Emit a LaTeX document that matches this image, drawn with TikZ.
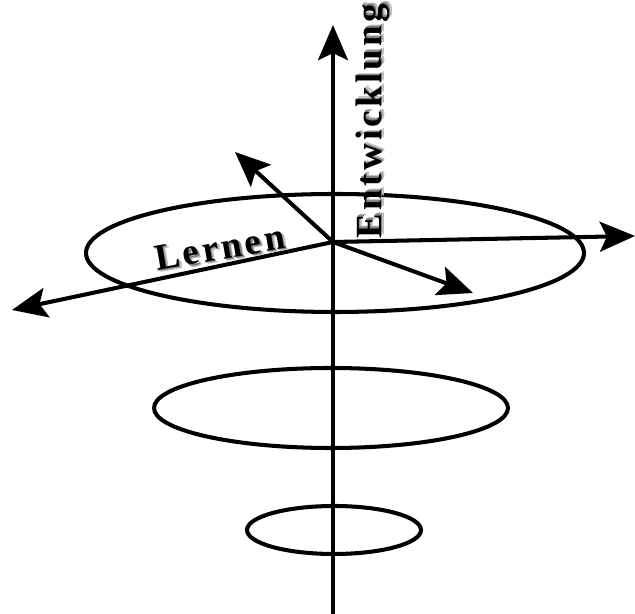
\documentclass[tikz,border=0pt]{standalone}
\usepackage{fontspec}
\setmainfont{Liberation Serif}
\newfontfamily\sperrfont[LetterSpace=9]{Liberation Serif}
\usetikzlibrary{arrows.meta}

% Text mit grauem Schatten
\newcommand{\schattentext}[1]{%
  \rlap{\hspace{1.5pt}\raisebox{-1.5pt}{\textcolor{black!25}{#1}}}%
  \rlap{\hspace{0.8pt}\raisebox{-0.8pt}{\textcolor{black!50}{#1}}}#1}

\tikzset{
  achse/.style={line width=2.3pt},
  kreis/.style={line width=2.3pt},
  beschriftung/.style={font=\sperrfont\bfseries\fontsize{21}{21}\selectfont, inner sep=0pt}
}

\begin{document}
\begin{tikzpicture}[>={Stealth[length=20pt, width=17pt, inset=4pt]}]
    \useasboundingbox (-6.66,-7.44) rectangle (6.04,4.84);

    % Mittelpunkt und Pfeilspitzen
    \coordinate (O) at (0,0);
    \coordinate (oben) at (0,4.34);
    \coordinate (unten) at (0,-7.44);
    \coordinate (rechts) at (6.04,0.12);
    \coordinate (linksunten) at (-6.42,-1.36);
    \coordinate (linksoben) at (-1.96,1.80);
    \coordinate (rechtsunten) at (2.80,-1.02);

    % Ellipsen
    \draw[kreis] (0.04,-0.22) ellipse (4.98 and 1.18);
    \draw[kreis] (-0.04,-3.32) ellipse (3.54 and 0.80);
    \draw[kreis] (0.02,-5.76) ellipse (1.74 and 0.48);

    % Senkrechte Achse
    \draw[achse] (unten) -- (O);
    \draw[achse, ->] (O) -- (oben);

    % Pfeile in der Ebene
    \draw[achse, ->] (O) -- (rechts);
    \draw[achse, ->] (O) -- (linksunten);
    \draw[achse, ->] (O) -- (linksoben);
    \draw[achse, ->] (O) -- (rechtsunten);

    % Beschriftungen
    \node[beschriftung, rotate=10] (lernen) at (-2.26,-0.14) {\schattentext{Lernen}};
    \node[beschriftung, rotate=90] (entw) at (0.82,2.42) {\schattentext{Entwicklung}};
\end{tikzpicture}
\end{document}
